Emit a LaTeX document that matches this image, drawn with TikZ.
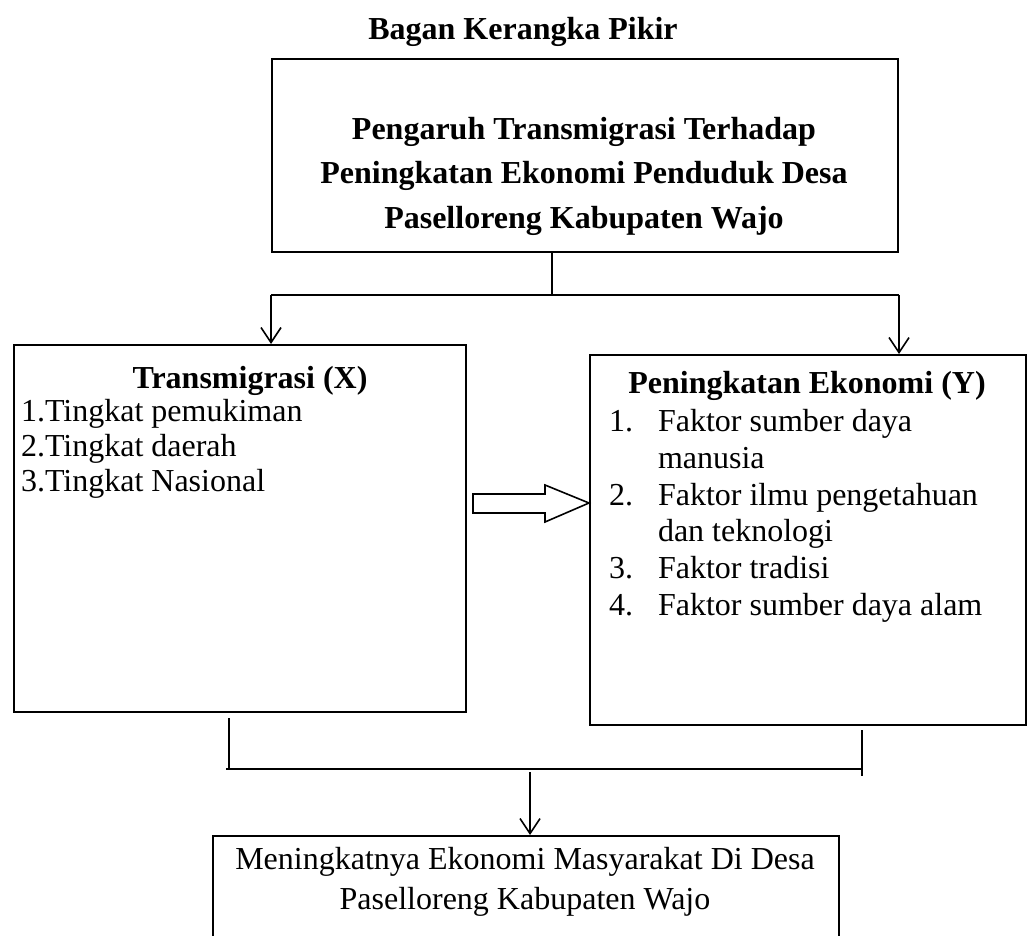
\documentclass[tikz,border=0pt]{standalone}
\usepackage{fontspec}
\setmainfont{Liberation Serif}
\usetikzlibrary{arrows.meta}
\begin{document}
\begin{tikzpicture}[x=1pt,y=-1pt,line width=2pt,
  box/.style={draw,line width=2pt,inner sep=0pt},
  txt/.style={font=\fontsize{32}{38}\selectfont,inner sep=0pt},
  btxt/.style={font=\fontsize{32}{38}\selectfont\bfseries,inner sep=0pt},
  arr/.style={-{Straight Barb[length=15pt,width=20pt,line width=1.6pt]}}]
\useasboundingbox (0,0) rectangle (1027,936);
% title
\node[btxt] (title) at (523,32) {Bagan Kerangka Pikir};
% boxes
\node[box,anchor=north west,minimum width=626pt,minimum height=193pt] (top) at (271,58) {};
\node[box,anchor=north west,minimum width=452pt,minimum height=367pt] (lbox) at (13,344) {};
\node[box,anchor=north west,minimum width=436pt,minimum height=370pt] (rbox) at (589,354) {};
\node[box,anchor=north west,minimum width=626pt,minimum height=140pt] (bbox) at (212,835) {};
% top text
\node[btxt] (t1) at (584,132) {Pengaruh Transmigrasi Terhadap};
\node[btxt] (t2) at (584,176) {Peningkatan Ekonomi Penduduk Desa};
\node[btxt] (t3) at (584,221) {Paselloreng Kabupaten Wajo};
% left text
\node[btxt] (lt) at (250,381) {Transmigrasi (X)};
\node[txt,anchor=west] (l1) at (20,414) {1.Tingkat pemukiman};
\node[txt,anchor=west] (l2) at (20,449) {2.Tingkat daerah};
\node[txt,anchor=west] (l3) at (20,484) {3.Tingkat Nasional};
% right text
\node[btxt] (rt) at (807,386) {Peningkatan Ekonomi (Y)};
\node[txt,anchor=base west] (rn1) at (608,431) {1.};
\node[txt,anchor=base west] (r1) at (657,431) {Faktor sumber daya};
\node[txt,anchor=base west] (r1b) at (657,468) {manusia};
\node[txt,anchor=base west] (rn2) at (608,505) {2.};
\node[txt,anchor=base west] (r2) at (657,505) {Faktor ilmu pengetahuan};
\node[txt,anchor=base west] (r2b) at (657,541) {dan teknologi};
\node[txt,anchor=base west] (rn3) at (608,578) {3.};
\node[txt,anchor=base west] (r3) at (657,578) {Faktor tradisi};
\node[txt,anchor=base west] (rn4) at (608,615) {4.};
\node[txt,anchor=base west] (r4) at (657,615) {Faktor sumber daya alam};
% bottom text
\node[txt] (b1) at (525,862) {Meningkatnya Ekonomi Masyarakat Di Desa};
\node[txt] (b2) at (525,902) {Paselloreng Kabupaten Wajo};
% connectors top
\coordinate (j1) at (552,295);
\draw (top.south -| j1) -- (j1);
\draw (top.south west |- j1) -- (top.south east |- j1);
\draw[arr] (top.south west |- j1) -- (lbox.north -| top.south west);
\draw[arr] (top.south east |- j1) -- (rbox.north -| top.south east);
% hollow arrow
\draw[line width=1.6pt] (473,494) -- (545,494) -- (545,485) -- (rbox.west |- 0,503) -- (545,522) -- (545,513) -- (473,513) -- cycle;
% bottom connectors
\coordinate (lb1) at (229,718);
\coordinate (lb2) at (229,769);
\coordinate (rb1) at (862,730);
\coordinate (rb2) at (862,776);
\coordinate (h1) at (226,769);
\coordinate (h2) at (862,769);
\coordinate (m1) at (530,772);
\draw (lb1) -- (lb2);
\draw (rb1) -- (rb2);
\draw (h1) -- (h2);
\draw[arr] (m1) -- (bbox.north -| m1);
\end{tikzpicture}
\end{document}
